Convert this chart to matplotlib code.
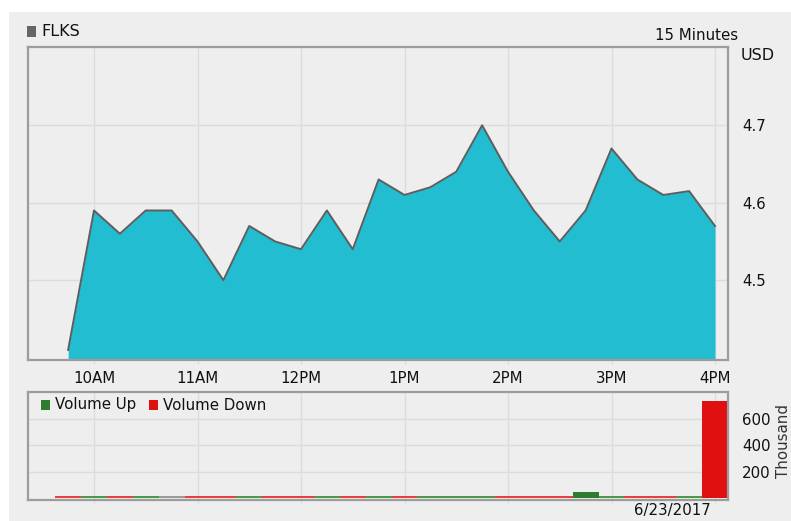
import matplotlib.pyplot as plt
from matplotlib.patches import Rectangle

plt.rcParams['font.family'] = ['DejaVu Sans']

# 15 minute bars, 9:45 .. 16:00
times = ["9:45", "10:00", "10:15", "10:30", "10:45", "11:00", "11:15", "11:30",
         "11:45", "12:00", "12:15", "12:30", "12:45", "13:00", "13:15", "13:30",
         "13:45", "14:00", "14:15", "14:30", "14:45", "15:00", "15:15", "15:30",
         "15:45", "16:00"]
price = [4.41, 4.59, 4.56, 4.59, 4.59, 4.55, 4.50, 4.57,
         4.55, 4.54, 4.59, 4.54, 4.63, 4.61, 4.62, 4.64,
         4.70, 4.64, 4.59, 4.55, 4.59, 4.67, 4.63, 4.61,
         4.615, 4.57]
# volume in thousands
volume = [15, 15, 15, 15, 14, 15, 15, 15,
          15, 15, 15, 15, 15, 15, 14, 14,
          14, 15, 15, 15, 48, 14, 15, 15,
          14, 735]
direction = ["down", "up", "down", "up", "flat", "down", "down", "up",
             "down", "down", "up", "down", "up", "down", "up", "up",
             "up", "down", "down", "down", "up", "up", "down", "down",
             "up", "down"]

hour_ticks = [10, 11, 12, 13, 14, 15, 16]
hour_labels = ["10AM", "11AM", "12PM", "1PM", "2PM", "3PM", "4PM"]
price_ticks = [4.5, 4.6, 4.7]
vol_ticks = [200, 400, 600]

x = [int(t.split(":")[0]) + int(t.split(":")[1]) / 60 for t in times]
colors = {"up": "#2e7d2e", "down": "#e01010", "flat": "#8a8a8a"}
thin = {"up": "#4a9a4a", "down": "#e84040", "flat": "#9a9a9a"}

bg = "#eeeeee"
grid = "#dcdcdc"
frame = "#9c9c9c"
txt = "#111111"
fs = 10.8

fig = plt.figure(figsize=(7.91, 5.21), dpi=100, facecolor="white")
fig.patches.append(Rectangle((9 / 791, 0), 1, 1 - 12 / 521, transform=fig.transFigure,
                             facecolor=bg, edgecolor="none", zorder=-5))

ax = fig.add_axes([28 / 791, 1 - 360 / 521, 700 / 791, 313 / 521])
vax = fig.add_axes([28 / 791, 1 - 500 / 521, 700 / 791, 108 / 521])

xlim = (10 - 66 / 103.5, 10 + 634 / 103.5)

for a in (ax, vax):
    a.set_facecolor(bg)
    a.set_xlim(*xlim)
    for s in a.spines.values():
        s.set_color(frame)
        s.set_linewidth(1.6)
    a.grid(True, color=grid, linewidth=1)
    a.set_axisbelow(True)
    a.set_xticks(hour_ticks)
    a.yaxis.tick_right()
    a.tick_params(axis="y", length=0, pad=10, labelsize=fs, labelcolor=txt)
    a.tick_params(axis="x", length=3, color=grid, labelsize=fs, labelcolor=txt)

ax.fill_between(x, price, 4.39, color="#22bdd0", linewidth=0)
ax.plot(x, price, color="#5e5e5e", linewidth=1.4)
ax.set_ylim(4.397, 4.801)
ax.set_yticks(price_ticks)
ax.set_yticklabels([f"{v:.1f}" for v in price_ticks])
ax.set_xticklabels(hour_labels)
ax.tick_params(axis="x", pad=5)

bar_colors = [colors[d] if v > 30 else thin[d] for d, v in zip(direction, volume)]
vax.bar(x, volume, width=0.25, color=bar_colors, linewidth=0)
vax.set_ylim(-14, 800)
vax.set_yticks(vol_ticks)
vax.set_xticklabels([])

# headers
fig.patches.append(Rectangle((27 / 791, 1 - 37 / 521), 9 / 791, 11 / 521,
                             transform=fig.transFigure, facecolor="#666666",
                             edgecolor="none"))
fig.text(41 / 791, 1 - 32 / 521, "FLKS", fontsize=11.5, va="center", color=txt)
fig.text(738 / 791, 1 - 35 / 521, "15 Minutes", fontsize=fs, va="center", ha="right",
         color=txt)
fig.text(741 / 791, 1 - 55 / 521, "USD", fontsize=11.5, va="center", color=txt)
fig.text(783 / 791, 1 - 441 / 521, "Thousand", fontsize=fs, va="center", ha="center",
         rotation=90, color="#333333")
fig.text(672 / 791, 1 - 511 / 521, "6/23/2017", fontsize=fs, va="center", ha="center",
         color=txt)

# volume legend
fig.patches.append(Rectangle((41 / 791, 1 - 410 / 521), 9 / 791, 10 / 521,
                             transform=fig.transFigure, facecolor=colors["up"],
                             edgecolor="none"))
fig.text(55 / 791, 1 - 405 / 521, "Volume Up", fontsize=fs, va="center", color=txt)
fig.patches.append(Rectangle((149 / 791, 1 - 410 / 521), 9 / 791, 10 / 521,
                             transform=fig.transFigure, facecolor=colors["down"],
                             edgecolor="none"))
fig.text(163 / 791, 1 - 405 / 521, "Volume Down", fontsize=fs, va="center", color=txt)

fig.savefig("out.png", dpi=100, facecolor=fig.get_facecolor())
